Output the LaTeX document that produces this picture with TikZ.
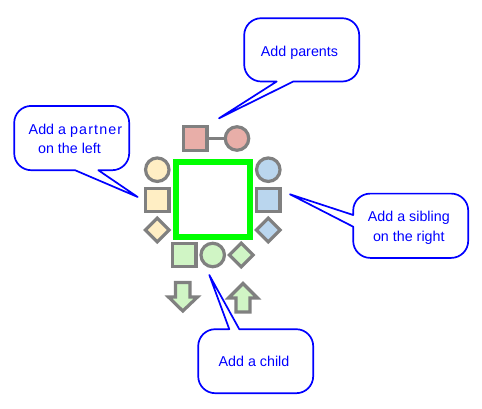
\documentclass[tikz,border=0pt]{standalone}
\usepackage{fontspec}
\setmainfont{Liberation Sans}
\usetikzlibrary{shapes.geometric}
\definecolor{redf}{HTML}{E8AEA8}
\definecolor{yelf}{HTML}{FFEEC4}
\definecolor{bluf}{HTML}{BAD6EE}
\definecolor{grnf}{HTML}{D0F5C5}
\definecolor{edgeg}{HTML}{808080}
\tikzset{
  x=1pt,y=-1pt,
  sq/.style={draw=edgeg,line width=3.2pt,rectangle,minimum size=23.5pt,inner sep=0pt,outer sep=1.6pt},
  ci/.style={draw=edgeg,line width=3.2pt,circle,minimum size=23.5pt,inner sep=0pt,outer sep=1.6pt},
  di/.style={draw=edgeg,line width=3.2pt,diamond,aspect=1,minimum size=25pt,inner sep=0pt},
  arrowshape/.style={draw=edgeg,line width=3.2pt,fill=grnf,miter limit=10},
  link/.style={draw=edgeg,line width=3.2pt},
  callout/.style={draw=blue,line width=1.7pt,fill=white,line join=round},
  lab/.style={text=blue,font=\fontsize{14.3pt}{17pt}\selectfont,anchor=base,inner sep=0pt}
}
\begin{document}
\begin{tikzpicture}
\useasboundingbox (0,0) rectangle (482,408);
% family
\node[sq,fill=redf] (dad) at (195.2,138.5) {};
\node[ci,fill=redf] (mum) at (237,138.5) {};
\draw[link] (dad) -- (mum);
\node[draw=green,line width=6pt,rectangle,minimum width=74.5pt,minimum height=74.5pt,inner sep=0pt] (person) at (213.2,199.7) {};
\node[ci,fill=yelf] (pc) at (157.3,169.7) {};
\node[sq,fill=yelf] (ps) at (157.3,200) {};
\node[di,fill=yelf] (pd) at (157.3,230) {};
\node[ci,fill=bluf] (sc) at (268.3,169.7) {};
\node[sq,fill=bluf] (ss) at (268.3,200) {};
\node[di,fill=bluf] (sd) at (268.3,230) {};
\node[sq,fill=grnf] (cs) at (184.3,255) {};
\node[ci,fill=grnf] (cc) at (212.7,255) {};
\node[di,fill=grnf] (cd) at (241.3,255) {};
% arrows
\draw[arrowshape] (175.5,282.5) -- (190,282.5) -- (190,297) -- (197.5,297) -- (182.8,311) -- (168.5,297) -- (175.5,297) -- cycle;
\draw[arrowshape] (243,283.5) -- (257.5,298) -- (250,298) -- (250,312) -- (236,312) -- (236,298) -- (228.5,298) -- cycle;
% callouts
\draw[callout] (293.3,81.5) [rounded corners=17pt] -- (359.2,81.5) -- (359.2,18.2) -- (244.2,18.2) -- (244.2,81.5) [sharp corners] -- (276.7,81.5) -- (219,118.3) -- cycle;
\draw[callout] (98.3,170.2) [rounded corners=17pt] -- (129.2,170.2) -- (129.2,105.9) -- (14.2,105.9) -- (14.2,170.2) [sharp corners] -- (75,170.2) -- (137.7,197) -- cycle;
\draw[callout] (353.2,226.7) [rounded corners=17pt] -- (353.2,257.9) -- (468.2,257.9) -- (468.2,193.6) -- (353.2,193.6) [sharp corners] -- (353.2,215) -- (290,194.3) -- cycle;
\draw[callout] (239.3,329.2) [rounded corners=17pt] -- (313.2,329.2) -- (313.2,393.2) -- (198.2,393.2) -- (198.2,329.2) [sharp corners] -- (229.3,329.2) -- (209.3,275) -- cycle;
% labels
\node[lab] (tp) at (299.5,56.2) {Add parents};
\node[lab] (tl1) at (75.5,134.3) {Add a {\addfontfeature{LetterSpace=8}partner}};
\node[lab] (tl2) at (69.5,153.3) {on the left};
\node[lab] (tr1) at (408.8,221.7) {Add a sibling};
\node[lab] (tr2) at (408.8,241.7) {on the right};
\node[lab] (tc) at (254,366.7) {Add a child};
\end{tikzpicture}
\end{document}
